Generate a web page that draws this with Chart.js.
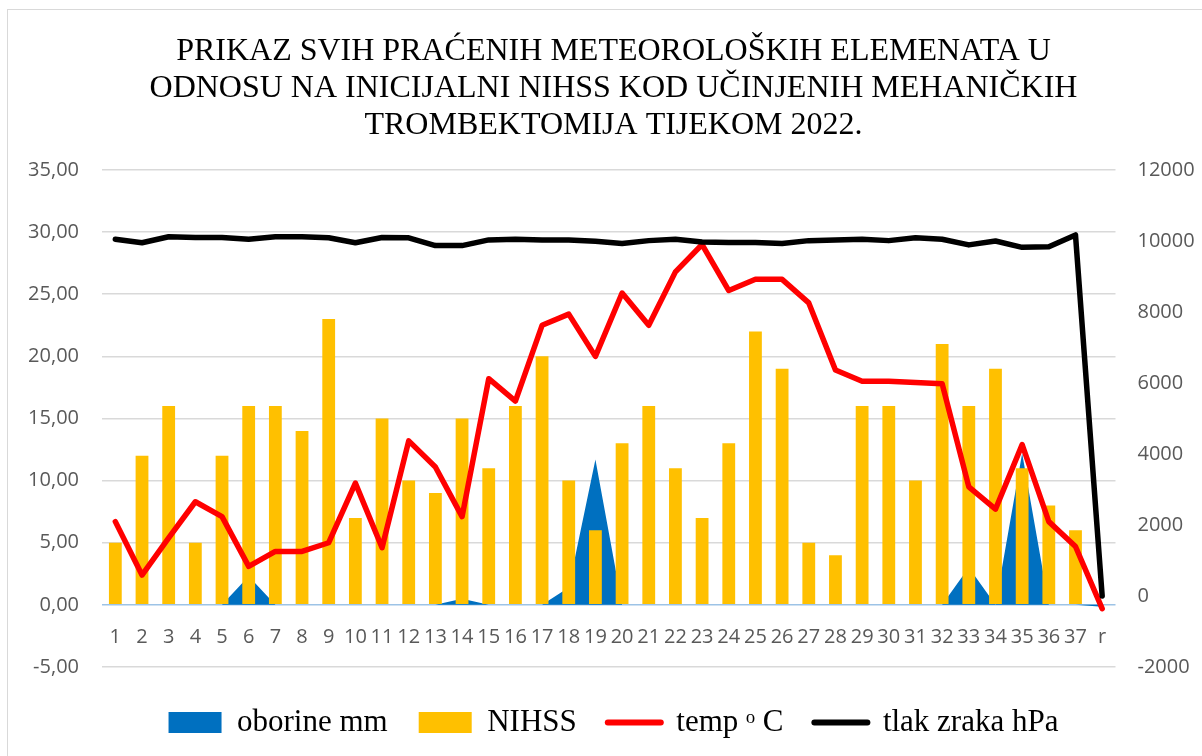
<!DOCTYPE html>
<html lang="hr">
<head>
  <meta charset="UTF-8" />
  <title>Meteorološki elementi i inicijalni NIHSS 2022.</title>
  <script src="https://cdn.jsdelivr.net/npm/chart.js"></script>
  <style>
    html, body {
      margin: 0;
      padding: 0;
      background: #ffffff;
      overflow: hidden;
    }
    .frame {
      position: absolute;
      left: 7px;
      top: 9px;
      width: 1300px;
      height: 800px;
      border: 1.5px solid #d9d9d9;
    }
    .wrap {
      position: absolute;
      left: 0;
      top: 0;
      width: 1220px;
      height: 756px;
    }
  </style>
</head>
<body>
  <div class="frame"></div>
  <div class="wrap"><canvas id="meteoChart"></canvas></div>

  <script>
    const categories = ['1','2','3','4','5','6','7','8','9','10','11','12','13','14','15','16','17','18','19',
      '20','21','22','23','24','25','26','27','28','29','30','31','32','33','34','35','36','37','r'];

    // oborine mm (lijeva os)
    const oborine = [0,0,0,0,0,2.3,0,0,0,0,0,0,0,0.5,0,0,0,1.4,11.7,0,0,0,0,0,0,0,0,0,0,0,0,0,3.0,0,12.2,0,0,-0.15];
    // inicijalni NIHSS (lijeva os)
    const nihss = [5,12,16,5,12,16,16,14,23,7,15,10,9,15,11,16,20,10,6,13,16,11,7,13,22,19,5,4,16,16,10,21,16,19,11,8,6,null];
    // temperatura (lijeva os)
    const temp = [6.7,2.4,5.4,8.3,7.1,3.1,4.3,4.3,5.0,9.8,4.6,13.2,11.1,7.1,18.2,16.4,22.5,23.4,20.0,25.1,22.5,26.8,
      29.0,25.3,26.2,26.2,24.3,18.9,18.0,18.0,17.9,17.8,9.5,7.7,12.9,6.7,4.7,-0.3];
    // tlak zraka (desna os)
    const tlak = [10050,9950,10120,10100,10100,10050,10120,10120,10090,9950,10100,10090,9870,9870,10030,10050,10030,
      10030,9990,9930,10010,10050,9970,9960,9960,9930,10010,10030,10050,10010,10090,10050,9890,10000,9820,9840,10170,0];

    const titleLines = [
      'PRIKAZ SVIH PRAĆENIH METEOROLOŠKIH ELEMENATA U',
      'ODNOSU NA INICIJALNI NIHSS KOD UČINJENIH MEHANIČKIH',
      'TROMBEKTOMIJA TIJEKOM 2022.'
    ];
    const legendNames = ['oborine mm', 'NIHSS', 'temp ᵒ C', 'tlak zraka hPa'];

    const tickFont = { family: "'Open Sans', sans-serif", size: 20 };
    const tickColor = '#595959';

    const legendNudge = {
      id: 'legendNudge',
      afterLayout(chart) {
        chart.legend.top += 9;
        chart.legend.bottom += 9;
      }
    };

    new Chart(document.getElementById('meteoChart'), {
      data: {
        labels: categories,
        datasets: [
          { type: 'line', label: legendNames[0], data: oborine, yAxisID: 'y', backgroundColor: '#0070C0',
            borderWidth: 0, fill: 'origin', pointRadius: 0, tension: 0, order: 4 },
          { type: 'bar', label: legendNames[1], data: nihss, yAxisID: 'y', backgroundColor: '#FFC000',
            barPercentage: 0.48, categoryPercentage: 1, order: 3 },
          { type: 'line', label: legendNames[2], data: temp, yAxisID: 'y', borderColor: '#FF0000',
            borderWidth: 5.5, pointRadius: 0, fill: false, borderJoinStyle: 'round', borderCapStyle: 'round', order: 2 },
          { type: 'line', label: legendNames[3], data: tlak, yAxisID: 'y1', borderColor: '#000000',
            borderWidth: 5.5, pointRadius: 0, fill: false, borderJoinStyle: 'round', borderCapStyle: 'round', order: 1 }
        ]
      },
      options: {
        responsive: true,
        maintainAspectRatio: false,
        animation: false,
        layout: { padding: { left: 7, right: 0, top: 0, bottom: 17 } },
        plugins: {
          title: {
            display: true,
            text: titleLines,
            color: '#000000',
            font: { family: "'Liberation Serif', 'Times New Roman', serif", size: 32, weight: 'normal', lineHeight: 1.155 },
            padding: { top: 33.5, bottom: 25.6 }
          },
          legend: {
            position: 'bottom',
            labels: {
              color: '#000000',
              font: { family: "'Liberation Serif', 'Times New Roman', serif", size: 31 },
              usePointStyle: true,
              pointStyleWidth: 53,
              boxHeight: 21,
              padding: 31,
              generateLabels: () => [
                { text: legendNames[0], fillStyle: '#0070C0', strokeStyle: '#0070C0', lineWidth: 0, pointStyle: 'rect', datasetIndex: 0 },
                { text: legendNames[1], fillStyle: '#FFC000', strokeStyle: '#FFC000', lineWidth: 0, pointStyle: 'rect', datasetIndex: 1 },
                { text: legendNames[2], fillStyle: '#FF0000', strokeStyle: '#FF0000', lineWidth: 6, lineCap: 'round', pointStyle: 'line', datasetIndex: 2 },
                { text: legendNames[3], fillStyle: '#000000', strokeStyle: '#000000', lineWidth: 6, lineCap: 'round', pointStyle: 'line', datasetIndex: 3 }
              ]
            }
          },
          tooltip: { enabled: false }
        },
        scales: {
          x: {
            position: { y: 0 },
            offset: true,
            grid: { display: false, drawTicks: false },
            border: { display: false },
            ticks: { autoSkip: false, maxRotation: 0, padding: 20, font: tickFont, color: tickColor }
          },
          y: {
            position: 'left',
            min: -5,
            max: 35,
            grid: {
              drawTicks: false,
              lineWidth: 1.5,
              color: ctx => (ctx.tick && ctx.tick.value === 0 ? '#9DC3E6' : '#D9D9D9')
            },
            border: { display: false },
            ticks: {
              stepSize: 5,
              padding: 23,
              font: tickFont,
              color: tickColor,
              callback: v => v.toFixed(2).replace('.', ',')
            },
            afterFit: s => { s.width = 95; }
          },
          y1: {
            position: 'right',
            min: -2000,
            max: 12000,
            grid: { display: false, drawTicks: false },
            border: { display: false },
            ticks: {
              stepSize: 2000,
              padding: 22,
              font: tickFont,
              color: tickColor,
              callback: v => String(v)
            },
            afterFit: s => { s.width = 104.5; }
          }
        }
      },
      plugins: [legendNudge]
    });
  </script>
</body>
</html>
